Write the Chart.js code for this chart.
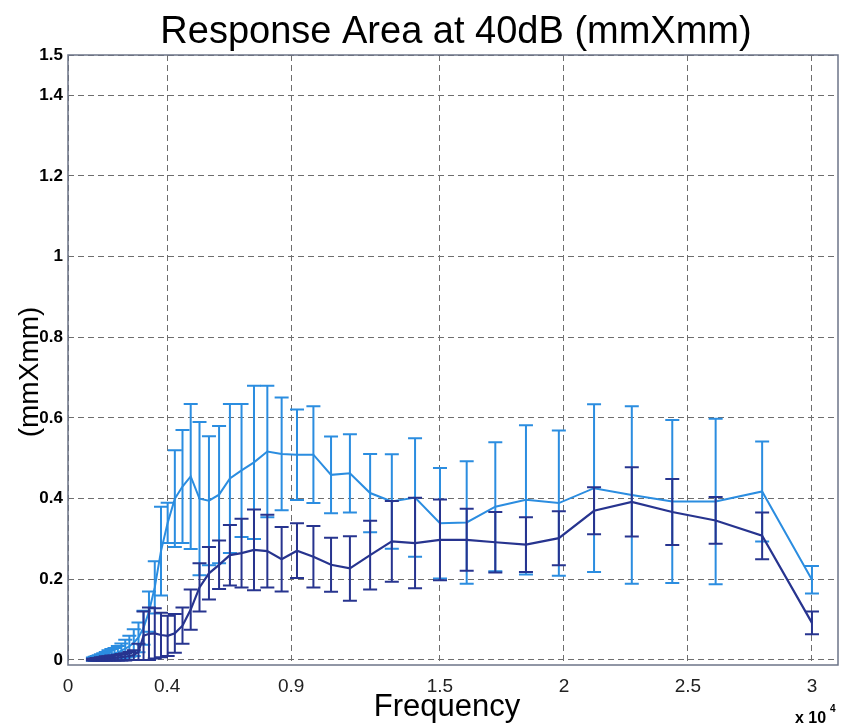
<!DOCTYPE html>
<html>
<head>
<meta charset="utf-8">
<script src="https://cdn.jsdelivr.net/npm/chart.js@4.4.1/dist/chart.umd.min.js"></script>
<style>
  html, body { margin: 0; padding: 0; background: #fff; }
  #wrap { width: 844px; height: 727px; }
</style>
</head>
<body>
<div id="wrap"><canvas id="chart" width="844" height="727"></canvas></div>
<script>
// frequencies (Hz), 1/10 octave steps
const freqs = [1005, 1077, 1154, 1237, 1326, 1421, 1523, 1632, 1749, 1875,
  2010, 2154, 2308, 2474, 2652, 2842, 3046, 3265, 3499, 3750,
  4019, 4308, 4617, 4948, 5303, 5684, 6092, 6529, 6998, 7500,
  8038, 8615, 9234, 9896, 10607, 11368, 12183, 13058, 13995, 15000,
  16077, 17231, 18467, 19793, 21213, 22735, 24367, 26116, 27991, 30000];

// light blue series
const lightMean = [0.002, 0.003, 0.004, 0.005, 0.006, 0.008, 0.010, 0.012, 0.014, 0.016,
  0.019, 0.023, 0.028, 0.034, 0.043, 0.056, 0.080, 0.120, 0.180, 0.270,
  0.340, 0.400, 0.430, 0.455, 0.400, 0.395, 0.410, 0.450, 0.470, 0.490,
  0.517, 0.511, 0.509, 0.509, 0.459, 0.463, 0.414, 0.393, 0.403, 0.339,
  0.341, 0.380, 0.397, 0.389, 0.426, 0.409, 0.393, 0.393, 0.418, 0.199];
const lightErr = [0.004, 0.005, 0.006, 0.007, 0.008, 0.009, 0.010, 0.012, 0.013, 0.014,
  0.016, 0.018, 0.022, 0.026, 0.033, 0.037, 0.042, 0.050, 0.065, 0.110,
  0.050, 0.120, 0.140, 0.180, 0.190, 0.160, 0.170, 0.185, 0.165, 0.190,
  0.163, 0.140, 0.112, 0.120, 0.095, 0.097, 0.097, 0.117, 0.147, 0.137,
  0.152, 0.160, 0.185, 0.180, 0.208, 0.220, 0.202, 0.205, 0.124, 0.034];

// dark blue series
const darkMean = [0.001, 0.001, 0.002, 0.002, 0.003, 0.003, 0.004, 0.004, 0.005, 0.005,
  0.006, 0.007, 0.008, 0.010, 0.012, 0.020, 0.060, 0.065, 0.066, 0.062,
  0.060, 0.066, 0.085, 0.125, 0.180, 0.215, 0.236, 0.260, 0.265, 0.273,
  0.270, 0.250, 0.271, 0.256, 0.236, 0.227, 0.260, 0.294, 0.290, 0.298,
  0.298, 0.292, 0.286, 0.302, 0.370, 0.392, 0.367, 0.346, 0.308, 0.092];
const darkErr = [0.002, 0.002, 0.003, 0.003, 0.004, 0.004, 0.005, 0.005, 0.006, 0.006,
  0.007, 0.008, 0.009, 0.010, 0.012, 0.020, 0.060, 0.065, 0.062, 0.055,
  0.050, 0.048, 0.045, 0.050, 0.060, 0.065, 0.060, 0.075, 0.085, 0.100,
  0.090, 0.080, 0.068, 0.076, 0.067, 0.080, 0.085, 0.100, 0.112, 0.100,
  0.077, 0.075, 0.068, 0.067, 0.058, 0.086, 0.082, 0.058, 0.058, 0.028];

const xTicks = [0, 4000, 9000, 15000, 20000, 25000, 30000];
const xTickLabels = ['0', '0.4', '0.9', '1.5', '2', '2.5', '3'];
const yTicks = [0, 0.2, 0.4, 0.6, 0.8, 1, 1.2, 1.4, 1.5];
const yTickLabels = ['0', '0.2', '0.4', '0.6', '0.8', '1', '1.2', '1.4', '1.5'];

const LIGHT = '#2b8de0';
const DARK = '#27348f';
const FONT = '"Liberation Sans", Arial, Helvetica, sans-serif';

// draws vertical error bars with caps for each dataset right after its line
const errorBars = {
  id: 'errorBars',
  afterDatasetDraw(chart, args) {
    const ds = chart.data.datasets[args.index];
    if (!ds.errors) return;
    const xs = chart.scales.x, ys = chart.scales.y;
    const area = chart.chartArea;
    const ctx = chart.ctx;
    ctx.save();
    ctx.beginPath();
    ctx.rect(area.left, area.top, area.right - area.left, area.bottom - area.top);
    ctx.clip();
    ctx.strokeStyle = ds.borderColor;
    ctx.lineWidth = 2;
    ds.data.forEach((p, i) => {
      const e = ds.errors[i];
      const px = xs.getPixelForValue(p.x);
      const top = ys.getPixelForValue(p.y + e);
      const bot = ys.getPixelForValue(p.y - e);
      ctx.beginPath();
      ctx.moveTo(px, top); ctx.lineTo(px, bot);
      ctx.moveTo(px - 7, top); ctx.lineTo(px + 7, top);
      ctx.moveTo(px - 7, bot); ctx.lineTo(px + 7, bot);
      ctx.stroke();
    });
    ctx.restore();
  }
};

// box, titles and the exponent note
const decorations = {
  id: 'decorations',
  afterDraw(chart) {
    const ctx = chart.ctx;
    const a = chart.chartArea;
    ctx.save();
    ctx.strokeStyle = '#6c7488';
    ctx.lineWidth = 1.5;
    ctx.strokeRect(a.left, a.top, a.right - a.left, a.bottom - a.top);

    ctx.fillStyle = '#000';
    ctx.textAlign = 'center';
    ctx.textBaseline = 'alphabetic';
    ctx.font = '38px ' + FONT;
    ctx.fillText('Response Area at 40dB (mmXmm)', 456, 43);

    ctx.font = '31px ' + FONT;
    ctx.fillText('Frequency', 447, 716);

    ctx.save();
    ctx.translate(30, 372);
    ctx.rotate(-Math.PI / 2);
    ctx.textBaseline = 'middle';
    ctx.font = '28px ' + FONT;
    ctx.fillText('(mmXmm)', 0, 0);
    ctx.restore();

    ctx.textAlign = 'left';
    ctx.font = 'bold 16px ' + FONT;
    ctx.fillText('x 10', 795, 723);
    ctx.font = 'bold 10px ' + FONT;
    ctx.fillText('4', 830, 712);
    ctx.restore();
  }
};

function toPoints(means) {
  return freqs.map((f, i) => ({ x: f, y: means[i] }));
}

new Chart(document.getElementById('chart'), {
  type: 'line',
  data: {
    datasets: [
      {
        label: 'dark',
        data: toPoints(darkMean),
        errors: darkErr,
        borderColor: DARK,
        borderWidth: 2.2,
        pointRadius: 0,
        tension: 0,
        fill: false
      },
      {
        label: 'light',
        data: toPoints(lightMean),
        errors: lightErr,
        borderColor: LIGHT,
        borderWidth: 2,
        pointRadius: 0,
        tension: 0,
        fill: false
      }
    ]
  },
  options: {
    responsive: false,
    animation: false,
    devicePixelRatio: 1,
    layout: { padding: { top: 55, left: 0, right: 6, bottom: 0 } },
    plugins: {
      legend: { display: false },
      tooltip: { enabled: false },
      title: { display: false }
    },
    scales: {
      x: {
        type: 'linear',
        min: 0,
        max: 31050,
        afterBuildTicks: axis => { axis.ticks = xTicks.map(v => ({ value: v })); },
        afterFit: axis => { axis.height = 62; },
        ticks: {
          autoSkip: false,
          maxRotation: 0,
          padding: 10,
          color: '#222',
          font: { family: FONT, size: 19 },
          callback: v => xTickLabels[xTicks.indexOf(v)]
        },
        grid: { color: '#6e6e6e', lineWidth: 1, drawTicks: false },
        border: { display: false, dash: [6, 4] }
      },
      y: {
        type: 'linear',
        min: -0.0124,
        max: 1.5,
        afterBuildTicks: axis => { axis.ticks = yTicks.map(v => ({ value: v })); },
        afterFit: axis => { axis.width = 68; },
        ticks: {
          autoSkip: false,
          padding: 5,
          color: '#000',
          font: { family: FONT, size: 17, weight: 'bold' },
          callback: v => yTickLabels[yTicks.indexOf(v)]
        },
        grid: { color: '#6e6e6e', lineWidth: 1, drawTicks: false },
        border: { display: false, dash: [6, 4] }
      }
    }
  },
  plugins: [errorBars, decorations]
});
</script>
</body>
</html>
